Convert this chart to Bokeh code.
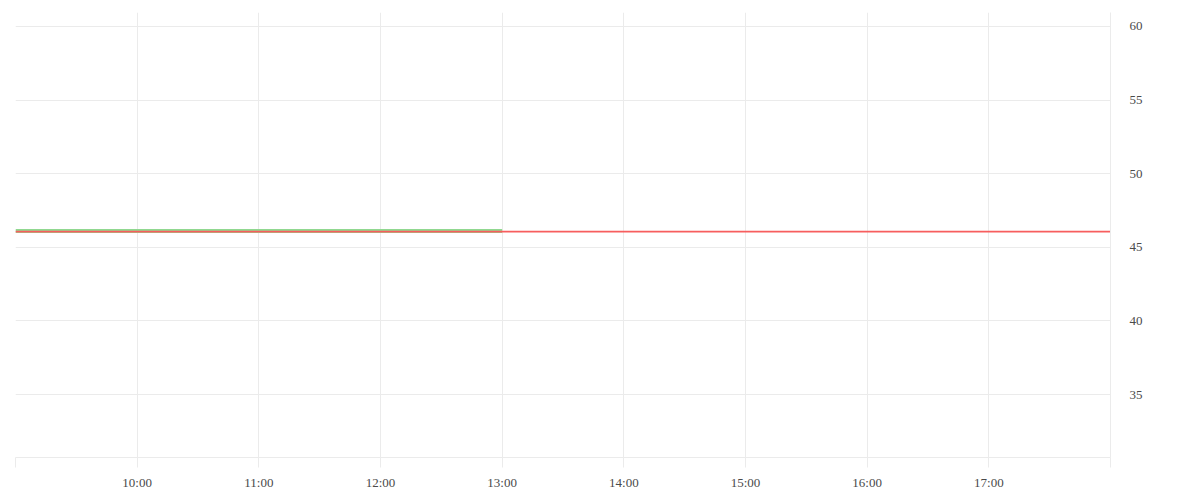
from bokeh.plotting import figure
from bokeh.models import FixedTicker, LinearAxis, Range1d
from bokeh.embed import file_html
from bokeh.resources import INLINE

# Data
price_times = ["09:00", "10:00", "11:00", "12:00", "13:00"]
price_values = [46.11, 46.11, 46.11, 46.11, 46.11]
ref_times = ["09:00", "18:00"]
ref_values = [46.07, 46.07]
x_tick_hours = [9, 10, 11, 12, 13, 14, 15, 16, 17, 18]
x_tick_labels = ["", "10:00", "11:00", "12:00", "13:00", "14:00", "15:00", "16:00", "17:00", ""]
y_ticks = [35, 40, 45, 50, 55, 60]


def to_hours(t):
    h, m = t.split(":")
    return int(h) + int(m) / 60.0


px = [to_hours(t) for t in price_times]
rx = [to_hours(t) for t in ref_times]

p = figure(width=1184, height=492, output_backend="svg", toolbar_location=None,
           x_range=Range1d(9, 18), y_range=Range1d(30.73, 60.95),
           y_axis_location=None, min_border_left=15, min_border_top=12,
           min_border_right=74, min_border_bottom=34)
p.outline_line_color = None
p.background_fill_color = "white"
p.border_fill_color = "white"

grid_col = "#ebebeb"
font = "Liberation Serif"
label_col = "#4a4a4a"

yaxis = LinearAxis(ticker=FixedTicker(ticks=y_ticks))
yaxis.axis_line_color = grid_col
yaxis.major_tick_line_color = None
yaxis.minor_tick_line_color = None
yaxis.major_label_text_font = font
yaxis.major_label_text_font_size = "13px"
yaxis.major_label_text_color = label_col
yaxis.major_label_standoff = 13
p.add_layout(yaxis, "right")

xa = p.xaxis[0]
xa.ticker = FixedTicker(ticks=x_tick_hours)
xa.major_label_overrides = {h: lab for h, lab in zip(x_tick_hours, x_tick_labels)}
xa.axis_line_color = grid_col
xa.major_tick_line_color = grid_col
xa.major_tick_out = 10
xa.major_tick_in = 0
xa.minor_tick_line_color = None
xa.major_label_text_font = font
xa.major_label_text_font_size = "13px"
xa.major_label_text_color = label_col
xa.major_label_standoff = 7

p.xgrid.ticker = FixedTicker(ticks=x_tick_hours)
p.xgrid.grid_line_color = grid_col
p.ygrid.ticker = FixedTicker(ticks=y_ticks)
p.ygrid.grid_line_color = grid_col

p.line(px, price_values, line_color="#90d890", line_width=4)
p.line(rx, ref_values, line_color="#f75e5e", line_width=1.8)

open("out.html", "w").write(file_html(p, INLINE))
